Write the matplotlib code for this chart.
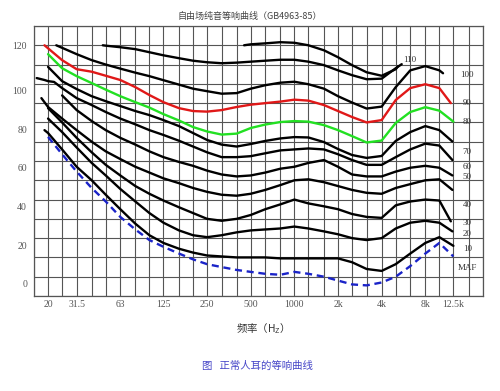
import matplotlib
matplotlib.use("Agg")
import matplotlib.pyplot as plt
import matplotlib.transforms as mtransforms
from matplotlib.ticker import NullFormatter

plt.rcParams['font.family'] = ['Noto Sans CJK SC', 'DejaVu Sans']

# 1/3-octave band centres (Hz)
bands = [20, 25, 31.5, 40, 50, 63, 80, 100, 125, 160, 200, 250, 315, 400, 500,
         630, 800, 1000, 1250, 1600, 2000, 2500, 3150, 4000, 5000, 6300, 8000,
         10000, 12500]
grid_freqs = [16] + bands + [16000, 20000]
tick_freqs = [20, 31.5, 63, 125, 250, 500, 1000, 2000, 4000, 8000, 12500]
tick_labels = ['20', '31.5', '63', '125', '250', '500', '1000', '2k', '4k', '8k', '12.5k']

# equal loudness contours, sound pressure level (dB)
f120 = [450, 500, 630, 800, 1000, 1250, 1600, 2000, 2500, 3150, 4000, 5000, 5200]
db120 = [120, 120.5, 121, 121.6, 121.3, 120, 117.4, 113.8, 109.7, 106, 104.2, 107.6, 109.2]

f110 = [47.7] + bands[4:25] + [5500]
db110 = [120, 119.8, 119, 118, 116.4, 114.8, 113.3, 112, 111.2, 110.7, 111, 111.5,
         112, 112.5, 112.5, 111.5, 109.7, 107, 104.5, 102.4, 102.7, 108.1, 110.2]

f100 = [22.8] + bands[2:28] + [10600]
db100 = [120, 115.4, 112.3, 110, 107.9, 105.8, 104, 101.9, 99.6, 97.5, 96.2, 94.9,
         95.2, 97.5, 99.3, 100.6, 101.1, 99.8, 97.5, 93.6, 90.3, 87.2, 88.2, 98.3,
         107, 109.2, 107, 105.5]

f90 = [18.9] + bands[1:28] + [12000]
db90 = [120, 112.3, 107.6, 106.3, 104.2, 102, 98.3, 94.2, 90.5, 87.4, 85.9, 85.6,
        86.4, 88, 89.2, 90, 90.8, 91.8, 91.3, 89, 85.9, 82.8, 80, 81.2, 91.6, 97.8,
        99.8, 97.8, 90]

f80 = bands
db80 = [115.4, 108.1, 104, 100.4, 97, 93.6, 90.5, 87.7, 84.3, 81, 77.6, 75.3, 73.7,
        74.2, 77.1, 78.9, 80.2, 80.7, 80.4, 78.6, 76, 72.9, 69.6, 70.6, 79.7, 85.4,
        87.9, 86.1, 80.4]

f70 = bands[:28] + [12300]
db70 = [108.8, 101.4, 97.3, 93.6, 91, 88.5, 85.9, 83.8, 81.2, 78.1, 74.5, 70.9, 68.5,
        67.5, 68.8, 70.4, 71.7, 72.4, 72.2, 69.8, 66.2, 63.1, 61.6, 62.6, 70.4, 75,
        78.1, 76, 70.1]

f60 = [16.7, 18.9, 20, 22] + bands[1:28] + [12300]
db60 = [103, 102, 101.4, 101, 97.8, 92.6, 89, 85.4, 82, 79, 76, 73.5, 70.5, 67.5,
        64.5, 62, 62, 62.5, 64, 65.5, 66, 66.5, 66, 63.5, 60.5, 58, 58, 62, 66, 69,
        68, 60.5]

f50 = bands[1:28] + [12300]
db50 = [94, 86.4, 80.7, 76, 72, 68.5, 65, 62, 59.5, 57.5, 55, 53, 52, 52.5, 54, 56,
        57, 59, 60.5, 57, 53, 52, 52, 54.5, 56.5, 57.5, 56.5, 52.5]

f40 = [18] + bands[:28] + [12300]
db40 = [92.6, 88, 82, 76, 70, 65, 61, 57, 54, 51, 48.5, 46, 44, 42.5, 42, 43, 45,
        47.5, 50, 50.5, 49, 47, 45, 43.5, 43, 46, 48, 50, 50.5, 45]

f30 = bands[:28] + [12000]
db30 = [87.4, 80, 72, 64.5, 58, 52.5, 47, 43, 39.5, 36, 33, 30, 29, 30, 32, 35,
        37.5, 40, 38, 36.5, 35, 32.5, 31, 30.5, 37, 39, 40, 39.5, 28.7]

f20 = bands[:28] + [12300]
db20 = [82, 75, 67, 59, 52.5, 45.5, 39, 33, 28, 24, 21.5, 20.5, 21.5, 23, 24, 24.5, 25,
        26, 25, 23.5, 22, 20, 19, 20, 25, 28, 29, 28, 23.5]

f10 = [18.9] + bands
db10 = [76, 74.5, 66, 57, 50, 42.5, 35, 27.5, 21.5, 17.5, 14.5, 12.5, 11, 10.5, 10, 10,
        10, 9.5, 9.5, 9.5, 9.5, 9.5, 7.5, 4, 3, 6.5, 12, 17.5, 20.5, 16]

f_maf = bands
db_maf = [72.5, 63.5, 54.5, 46, 39, 31, 24.5, 19, 15.5, 12, 9, 6.5, 5, 3.5, 2.5, 1.5, 1,
          2.5, 1.5, 0, -2, -4, -4.5, -3, 0, 5.5, 12, 17.5, 10.5]

# right-hand curve labels
label_text = ['100', '90', '80', '70', '60', '50', '40', '30', '20', '10', 'MAF']
label_db = [104.5, 89.9, 80.3, 64.8, 57, 51.9, 37.2, 28.1, 22.2, 14.5, 4.5]

fig = plt.figure(figsize=(5, 3.91), dpi=100)
ax = fig.add_axes([0.068, 0.243, 0.898, 0.6905])
ax.set_xscale('log')
ax.set_xlim(16, 20000)
ax.set_ylim(-10, 130)

ax.set_xticks(grid_freqs, minor=True)
ax.set_xticks(tick_freqs)
ax.set_xticklabels(tick_labels)
ax.xaxis.set_minor_formatter(NullFormatter())
ax.set_yticks(range(-10, 131, 10), minor=True)
ax.set_yticks(range(0, 121, 20))
ax.grid(True, which='both', color='#555555', lw=0.8)
ax.set_axisbelow(True)
ax.tick_params(which='both', length=0, labelsize=7, labelcolor='#555555')
ax.tick_params(axis='y', pad=5)
ax.tick_params(axis='x', pad=3)
for lab in ax.get_xticklabels() + ax.get_yticklabels():
    lab.set_family('Liberation Serif')
# the printed y labels sit a little below their grid lines (except 120)
shift = mtransforms.ScaledTranslation(0, -5 / 72, fig.dpi_scale_trans)
for lab in ax.get_yticklabels()[:-1]:
    lab.set_transform(lab.get_transform() + shift)
for sp in ax.spines.values():
    sp.set_color('#555555')
    sp.set_linewidth(0.9)

for f, db in [(f120, db120), (f110, db110), (f100, db100), (f70, db70), (f60, db60),
              (f50, db50), (f40, db40), (f30, db30), (f20, db20), (f10, db10)]:
    ax.plot(f, db, color='black', lw=1.7, solid_capstyle='round', solid_joinstyle='round')
ax.plot(f90, db90, color='#e01818', lw=1.7, solid_capstyle='round')
ax.plot(f80, db80, color='#22e022', lw=1.7, solid_capstyle='round')
ax.plot(f_maf, db_maf, color='#1a23c8', lw=1.7, ls=(0, (3, 2)))

for txt, db in zip(label_text, label_db):
    ax.text(15600, db, txt, ha='center', va='center', fontsize=6.5,
            family='Liberation Serif', color='#333333')
ax.text(6300, 112.3, '110', ha='center', va='center', fontsize=6.5,
        family='Liberation Serif', color='#333333')

fig.text(0.5, 1 - 16 / 391, '自由场纯音等响曲线（GB4963-85）', ha='center', va='center',
         fontsize=6.5, color='#444444')
fig.text(0.52, 1 - 329 / 391, '频率（$\\mathregular{H_Z}$）', ha='center', va='center',
         fontsize=7.5, color='#333333')
fig.text(0.514, 1 - 366 / 391, '图   正常人耳的等响曲线', ha='center', va='center',
         fontsize=7.5, color='#4646c8')

fig.savefig('out.png', dpi=100)
